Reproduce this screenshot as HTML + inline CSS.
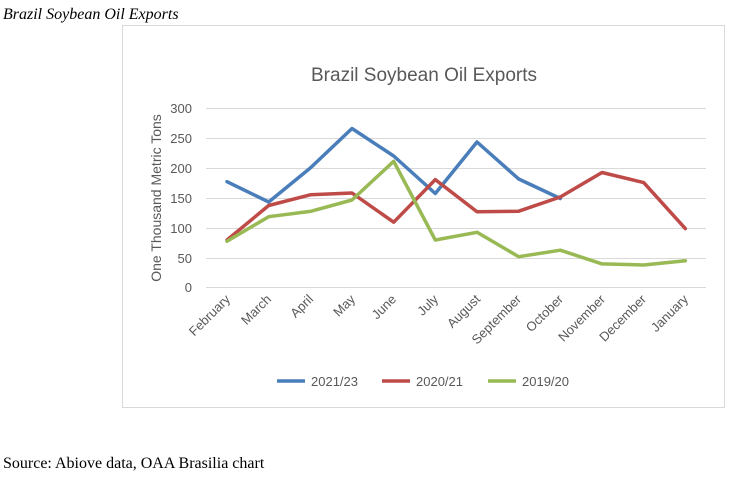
<!DOCTYPE html>
<html><head><style>
body{margin:0;background:#fff;width:732px;height:482px;overflow:hidden}
</style></head><body>
<svg width="732" height="482" xmlns="http://www.w3.org/2000/svg" font-family="Liberation Sans, sans-serif">
<text x="3" y="19" font-family="Liberation Serif, serif" font-style="italic" font-size="16">Brazil Soybean Oil Exports</text>
<rect x="122.5" y="25.5" width="602" height="382" fill="#fff" stroke="#d9d9d9"/>
<text x="424" y="81" text-anchor="middle" font-size="19" fill="#595959">Brazil Soybean Oil Exports</text>
<g stroke="#d9d9d9" stroke-width="1">
<line x1="206" x2="706" y1="108.5" y2="108.5"/><line x1="206" x2="706" y1="138.5" y2="138.5"/>
<line x1="206" x2="706" y1="168.5" y2="168.5"/><line x1="206" x2="706" y1="198.5" y2="198.5"/>
<line x1="206" x2="706" y1="228.5" y2="228.5"/><line x1="206" x2="706" y1="258.5" y2="258.5"/>
<line x1="206" x2="706" y1="287.5" y2="287.5"/>
</g>
<g font-size="13" fill="#595959" text-anchor="end">
<text x="192" y="113">300</text><text x="192" y="143">250</text><text x="192" y="173">200</text>
<text x="192" y="203">150</text><text x="192" y="233">100</text><text x="192" y="263">50</text><text x="192" y="292">0</text>
</g>
<text transform="translate(161,198) rotate(-90)" text-anchor="middle" font-size="14" fill="#595959">One Thousand Metric Tons</text>
<g font-size="13" fill="#595959" text-anchor="end">
<text transform="translate(231,300) rotate(-45)">February</text>
<text transform="translate(272,300) rotate(-45)">March</text>
<text transform="translate(314,300) rotate(-45)">April</text>
<text transform="translate(356,300) rotate(-45)">May</text>
<text transform="translate(397,300) rotate(-45)">June</text>
<text transform="translate(439,300) rotate(-45)">July</text>
<text transform="translate(481,300) rotate(-45)">August</text>
<text transform="translate(522,300) rotate(-45)">September</text>
<text transform="translate(564,300) rotate(-45)">October</text>
<text transform="translate(606,300) rotate(-45)">November</text>
<text transform="translate(647,300) rotate(-45)">December</text>
<text transform="translate(689,300) rotate(-45)">January</text>
</g>
<g fill="none" stroke-width="3.5" stroke-linejoin="round" stroke-linecap="round">
<polyline stroke="#4a7ebb" points="227,181.7 268.7,202 310.3,168 352,128.5 393.7,156 435.3,193.5 477,142 518.7,179 560.3,198.5"/>
<polyline stroke="#be4b48" points="227,240 268.7,205.5 310.3,194.8 352,193 393.7,222.2 435.3,179.6 477,211.8 518.7,211.2 560.3,197 602,172.5 643.7,182.6 685.3,228.6"/>
<polyline stroke="#98b954" points="227,241.2 268.7,216.7 310.3,211.4 352,200 393.7,161.3 435.3,240 477,232.3 518.7,256.7 560.3,250.2 602,263.9 643.7,265 685.3,260.8"/>
</g>
<g font-size="13" fill="#595959">
<line x1="277" x2="305" y1="381" y2="381" stroke="#4a7ebb" stroke-width="3.5"/><text x="311" y="386">2021/23</text>
<line x1="382" x2="410" y1="381" y2="381" stroke="#be4b48" stroke-width="3.5"/><text x="416" y="386">2020/21</text>
<line x1="488" x2="516" y1="381" y2="381" stroke="#98b954" stroke-width="3.5"/><text x="522" y="386">2019/20</text>
</g>
<text x="3" y="468" font-family="Liberation Serif, serif" font-size="16">Source: Abiove data, OAA Brasilia chart</text>
</svg>
</body></html>
